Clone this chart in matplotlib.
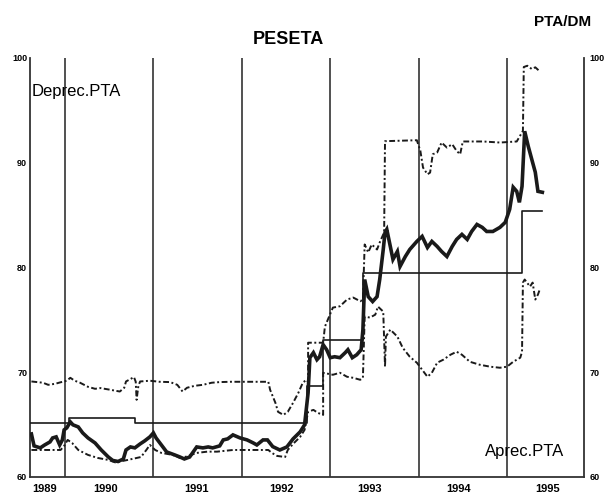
import matplotlib
matplotlib.use('Agg')
import matplotlib.pyplot as plt

plt.rcParams['font.family'] = ['Liberation Sans', 'DejaVu Sans']

# tipo de cambio PTA/DM (linea gruesa)
tc_anio = [1989.62, 1989.65, 1989.72, 1989.77, 1989.83, 1989.86, 1989.90, 1989.94, 1989.97, 1989.99,
           1990.02, 1990.06, 1990.09, 1990.15, 1990.20, 1990.26, 1990.34, 1990.41, 1990.49, 1990.54,
           1990.60, 1990.66, 1990.69, 1990.74, 1990.79, 1990.85, 1990.90, 1990.96, 1991.00, 1991.03,
           1991.09, 1991.15, 1991.24, 1991.30, 1991.35, 1991.41, 1991.49, 1991.56, 1991.62, 1991.67,
           1991.75, 1991.79, 1991.84, 1991.90, 1991.98, 1992.06, 1992.13, 1992.17, 1992.24, 1992.29,
           1992.35, 1992.43, 1992.51, 1992.58, 1992.66, 1992.71, 1992.75, 1992.77, 1992.81, 1992.85,
           1992.88, 1992.92, 1992.96, 1993.00, 1993.05, 1993.11, 1993.17, 1993.20, 1993.25, 1993.30,
           1993.35, 1993.37, 1993.39, 1993.43, 1993.48, 1993.53, 1993.56, 1993.60, 1993.62, 1993.64,
           1993.68, 1993.71, 1993.76, 1993.79, 1993.85, 1993.90, 1993.98, 1994.04, 1994.10, 1994.15,
           1994.21, 1994.26, 1994.32, 1994.38, 1994.43, 1994.49, 1994.55, 1994.60, 1994.66, 1994.72,
           1994.77, 1994.84, 1994.92, 1994.98, 1995.03, 1995.07, 1995.11, 1995.14, 1995.17, 1995.20,
           1995.24, 1995.28, 1995.32, 1995.35, 1995.40]
tc_valor = [64.11, 62.97, 62.78, 63.06, 63.35, 63.73, 63.83, 63.06, 63.54, 64.50,
            64.69, 65.26, 64.98, 64.78, 64.21, 63.73, 63.25, 62.58, 61.91, 61.58,
            61.48, 61.72, 62.58, 62.87, 62.78, 63.16, 63.44, 63.83, 64.21, 63.73,
            63.06, 62.39, 62.11, 61.91, 61.72, 61.91, 62.87, 62.78, 62.87, 62.78,
            62.97, 63.54, 63.64, 64.02, 63.73, 63.54, 63.25, 63.06, 63.54, 63.54,
            62.90, 62.58, 62.87, 63.64, 64.31, 64.98, 68.04, 71.39, 71.87, 71.20,
            71.48, 72.63, 72.15, 71.39, 71.48, 71.39, 71.87, 72.15, 71.39, 71.67,
            72.15, 74.07, 78.85, 77.22, 76.75, 77.22, 78.85, 81.72, 83.35, 83.64,
            82.01, 80.77, 81.53, 80.10, 81.05, 81.72, 82.49, 82.97, 81.91, 82.49,
            82.01, 81.53, 81.05, 82.01, 82.68, 83.16, 82.68, 83.44, 84.11, 83.83,
            83.44, 83.44, 83.83, 84.31, 85.55, 87.66, 87.27, 86.22, 87.75, 93.01,
            91.58, 90.33, 89.09, 87.27, 87.18]

# paridad central (escalones)
cen_anio = [1989.60, 1990.05, 1990.79, 1992.74, 1992.92, 1993.37, 1995.17, 1995.40]
cen_valor = [65.2, 65.65, 65.2, 68.64, 73.11, 79.52, 85.36, 85.36]

# limite superior
sup_anio = [1989.62, 1989.75, 1989.81, 1989.89, 1989.94, 1990.02, 1990.06, 1990.11, 1990.17, 1990.26,
            1990.34, 1990.40, 1990.51, 1990.62, 1990.67, 1990.69, 1990.74, 1990.78, 1990.80, 1990.81,
            1990.83, 1990.85, 1990.96, 1991.07, 1991.19, 1991.27, 1991.33, 1991.38, 1991.47, 1991.56,
            1991.66, 1991.75, 1991.87, 1992.30, 1992.32, 1992.38, 1992.41, 1992.47, 1992.52, 1992.58,
            1992.64, 1992.69, 1992.73, 1992.75, 1992.75, 1992.92, 1992.94, 1993.03, 1993.11, 1993.19,
            1993.26, 1993.34, 1993.37, 1993.39, 1993.43, 1993.47, 1993.53, 1993.56, 1993.61, 1993.62,
            1993.98, 1994.02, 1994.05, 1994.10, 1994.13, 1994.16, 1994.21, 1994.26, 1994.32, 1994.38,
            1994.43, 1994.47, 1994.50, 1994.73, 1994.92, 1995.11, 1995.18, 1995.19, 1995.23, 1995.28,
            1995.32, 1995.37]
sup_valor = [69.12, 69.00, 68.80, 68.90, 69.02, 69.19, 69.47, 69.19, 69.00, 68.61,
             68.42, 68.49, 68.33, 68.16, 68.52, 69.12, 69.35, 69.54, 69.09, 67.37,
             68.71, 69.12, 69.19, 69.09, 69.06, 68.80, 68.16, 68.52, 68.71, 68.80,
             69.00, 69.06, 69.09, 69.09, 68.33, 67.08, 66.22, 65.93, 66.22, 67.08,
             68.04, 69.00, 69.28, 69.09, 72.82, 72.82, 74.35, 76.17, 76.30, 76.94,
             77.13, 76.78, 76.94, 82.20, 81.44, 82.20, 81.72, 82.39, 83.35, 92.06,
             92.15, 91.13, 89.54, 88.90, 89.06, 90.81, 90.98, 91.93, 91.45, 91.77,
             91.13, 90.81, 92.03, 92.03, 91.93, 92.03, 93.04, 99.14, 99.26, 98.95,
             99.11, 98.73]

# limite inferior
inf_anio = [1989.62, 1989.77, 1989.95, 1989.99, 1990.03, 1990.08, 1990.15, 1990.26, 1990.37, 1990.49,
            1990.57, 1990.71, 1990.86, 1990.92, 1990.96, 1991.02, 1991.09, 1991.22, 1991.30, 1991.38,
            1991.49, 1991.61, 1991.72, 1991.90, 1992.30, 1992.34, 1992.40, 1992.49, 1992.52, 1992.58,
            1992.66, 1992.71, 1992.75, 1992.81, 1992.86, 1992.92, 1992.92, 1993.03, 1993.11, 1993.19,
            1993.26, 1993.34, 1993.37, 1993.39, 1993.45, 1993.51, 1993.54, 1993.60, 1993.62, 1993.63,
            1993.68, 1993.76, 1993.82, 1993.90, 1993.98, 1994.04, 1994.10, 1994.15, 1994.21, 1994.28,
            1994.36, 1994.43, 1994.49, 1994.58, 1994.69, 1994.81, 1994.92, 1995.00, 1995.07, 1995.15,
            1995.17, 1995.18, 1995.20, 1995.26, 1995.29, 1995.32, 1995.35, 1995.37]
inf_valor = [62.58, 62.58, 62.58, 62.97, 63.54, 63.25, 62.58, 62.11, 61.82, 61.63,
             61.39, 61.63, 61.91, 62.58, 63.06, 62.58, 62.30, 62.11, 61.82, 61.96,
             62.30, 62.42, 62.42, 62.58, 62.58, 62.30, 62.01, 61.91, 62.58, 63.16,
             63.83, 64.50, 66.22, 66.41, 66.12, 65.93, 69.95, 69.76, 69.95, 69.57,
             69.47, 69.28, 69.47, 75.31, 75.22, 75.50, 76.27, 75.79, 70.53, 73.40,
             74.07, 73.40, 72.34, 71.48, 70.91, 70.24, 69.57, 69.95, 70.91, 71.20,
             71.67, 71.96, 71.67, 71.00, 70.72, 70.53, 70.43, 70.53, 71.00, 71.39,
             71.96, 78.56, 78.85, 78.18, 78.56, 76.94, 77.42, 77.89]

anios = [1990, 1991, 1992, 1993, 1994, 1995]
anio_etiq = ['1989', '1990', '1991', '1992', '1993', '1994', '1995']
anio_etiq_pos = [1989.77, 1990.46, 1991.49, 1992.45, 1993.45, 1994.45, 1995.46]
y_ticks = [60, 70, 80, 90, 100]

col = '#1a1a1a'
fig = plt.figure(figsize=(6.07, 4.99), dpi=100)
ax = fig.add_axes([30/607, 22/499, 554/607, 419/499])

for a in anios:
    ax.axvline(a, color='#333333', lw=1.2, zorder=1)

ax.plot(sup_anio, sup_valor, color=col, lw=1.4, ls=(0, (3, 1.3, 1, 1.3)), zorder=2)
ax.plot(inf_anio, inf_valor, color=col, lw=1.4, ls=(0, (3, 1.3, 1, 1.3)), zorder=2)
ax.plot(cen_anio, cen_valor, color=col, lw=1.2, drawstyle='steps-post', zorder=3)
ax.plot(tc_anio, tc_valor, color=col, lw=2.6, solid_joinstyle='miter', zorder=4)

ax.set_xlim(1989.604, 1995.871)
ax.set_ylim(60, 100)
ax.spines['top'].set_visible(False)
for s in ['left', 'right', 'bottom']:
    ax.spines[s].set_linewidth(1.3)
    ax.spines[s].set_color('#333333')

ax.set_xticks(anio_etiq_pos)
ax.set_xticklabels(anio_etiq, fontsize=8, fontweight='bold')
ax.tick_params(axis='x', length=0, pad=5)
ax.set_yticks(y_ticks)
ax.set_yticklabels([str(v) for v in y_ticks], fontsize=6.5, fontweight='bold')
ax.tick_params(axis='y', length=0, pad=2)

ax2 = ax.twinx()
ax2.set_ylim(60, 100)
ax2.set_yticks(y_ticks)
ax2.set_yticklabels([str(v) for v in y_ticks], fontsize=6.5, fontweight='bold')
ax2.tick_params(axis='y', length=0, pad=4)
for s in ax2.spines.values():
    s.set_visible(False)

ax.text(0.003, 0.92, 'Deprec.PTA', transform=ax.transAxes, fontsize=12, va='center', ha='left')
ax.text(0.965, 0.06, 'Aprec.PTA', transform=ax.transAxes, fontsize=12, va='center', ha='right')

fig.text(288/607, 1 - 40/499, 'PESETA', fontsize=13, fontweight='bold', ha='center', va='center')
fig.text(563/607, 1 - 22/499, 'PTA/DM', fontsize=11, fontweight='bold', ha='center', va='center')

fig.savefig('out.png', dpi=100, facecolor='white')
